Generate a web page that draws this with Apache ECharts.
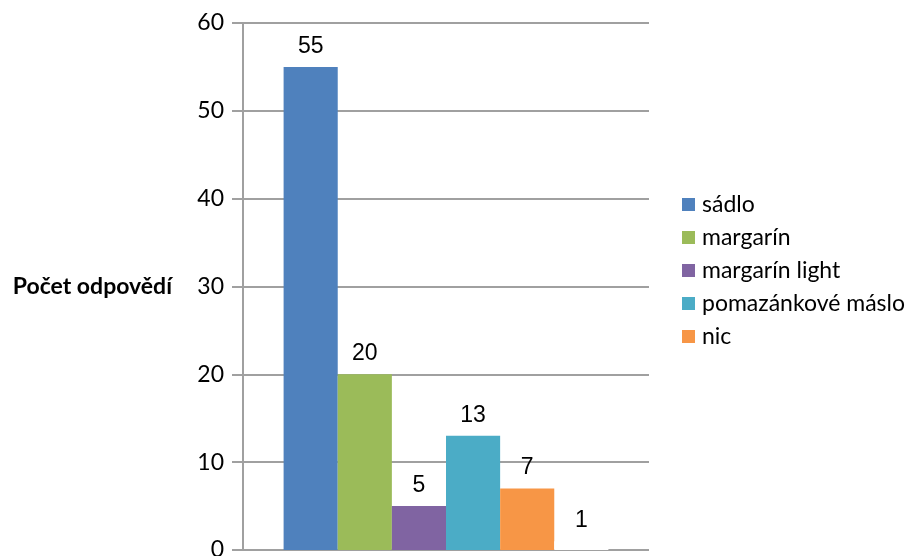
<!DOCTYPE html>
<html>
<head>
<meta charset="utf-8">
<script src="https://cdn.jsdelivr.net/npm/echarts@6/dist/echarts.min.js"></script>
<style>
  html, body { margin: 0; padding: 0; background: #fff; overflow: hidden; }
  #chart { width: 908px; height: 556px; }
</style>
</head>
<body>
<div id="chart"></div>
<script>
// Answers: what fat is used, counted per option
const seriesNames = ['sádlo', 'margarín', 'margarín light', 'pomazánkové máslo', 'nic', 'jiné'];
const seriesValues = [55, 20, 5, 13, 7, 1];
const seriesColors = ['#4F81BD', '#9BBB59', '#8064A2', '#4BACC6', '#F79646', '#FFFFFF'];
const legendNames = ['sádlo', 'margarín', 'margarín light', 'pomazánkové máslo', 'nic'];
const axisName = 'Počet odpovědí';

const chart = echarts.init(document.getElementById('chart'));

const series = seriesNames.map((name, i) => ({
  name: name,
  type: 'bar',
  data: [seriesValues[i]],
  barGap: '0%',
  barCategoryGap: '20%',
  itemStyle: { color: seriesColors[i] },
  label: {
    show: true,
    position: 'top',
    distance: 9,
    color: '#000',
    fontFamily: 'Liberation Sans',
    fontSize: 23
  }
}));

chart.setOption({
  animation: false,
  backgroundColor: '#fff',
  grid: {
    left: 243, right: 259, top: 23, bottom: 6,
    containLabel: false,
    outerBoundsMode: 'none'
  },
  legend: {
    data: legendNames,
    orient: 'vertical',
    left: 677,
    top: 188,
    itemWidth: 13,
    itemHeight: 13,
    itemGap: 10,
    icon: 'rect',
    textStyle: { fontFamily: 'Lato', fontSize: 23, color: '#000', padding: [0, 0, 0, 2] }
  },
  xAxis: {
    type: 'category',
    data: [''],
    axisLine: { show: false },
    axisTick: { show: false },
    axisLabel: { show: false }
  },
  yAxis: {
    type: 'value',
    min: 0,
    max: 60,
    interval: 10,
    name: axisName,
    nameLocation: 'middle',
    nameRotate: 0,
    nameGap: 71,
    nameTextStyle: { fontFamily: 'Lato', fontWeight: 'bold', fontSize: 23, color: '#000', align: 'right' },
    axisLine: { show: true, lineStyle: { color: '#A0A0A0', width: 2 } },
    axisTick: { show: true, length: 11, lineStyle: { color: '#A0A0A0', width: 2 } },
    axisLabel: { margin: 19, fontFamily: 'Lato', fontSize: 23, color: '#000' },
    splitLine: { show: true, lineStyle: { color: '#A0A0A0', width: 2 } }
  },
  series: series
});
</script>
</body>
</html>
